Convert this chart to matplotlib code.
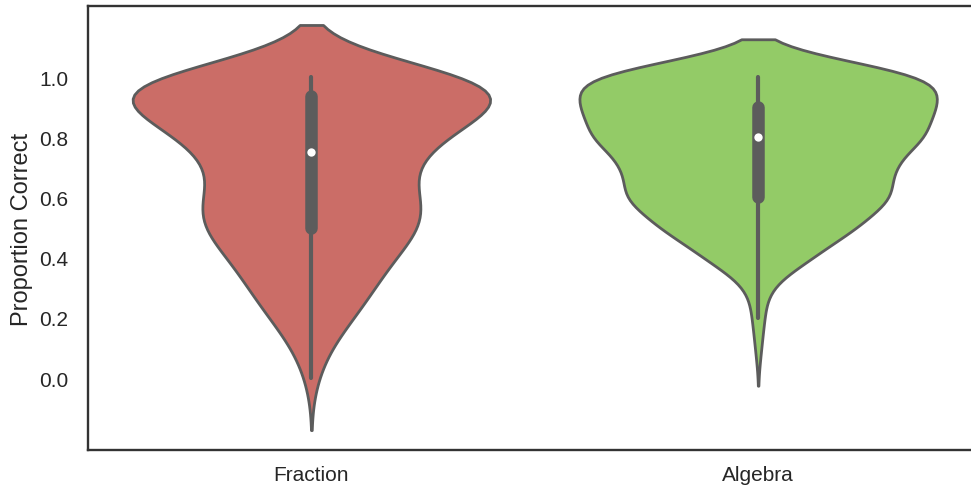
import numpy as np
import pandas as pd
import matplotlib
matplotlib.use("Agg")
import matplotlib.pyplot as plt
import seaborn as sns

sns.set_theme(style="white")
plt.rcParams['font.family'] = ['Liberation Sans', 'DejaVu Sans']

categories = ['Fraction', 'Algebra']

# score levels and number of students at each level
fraction_scores = [0.00, 0.05, 0.10, 0.15, 0.20, 0.25, 0.30, 0.35, 0.40, 0.45,
                   0.50, 0.55, 0.60, 0.65, 0.70, 0.75, 0.80, 0.85, 0.90, 0.95,
                   1.00]
fraction_counts = [1, 1, 2, 3, 5, 6, 7, 8, 9, 10,
                   14, 13, 12, 11, 10, 11, 16, 17, 19, 26,
                   33]

algebra_scores = [0.1, 0.2, 0.3, 0.4, 0.5, 0.6, 0.7, 0.8, 0.9, 1.0]
algebra_counts = [1, 2, 3, 17, 31, 43, 41, 53, 55, 60]

yticks = [0.0, 0.2, 0.4, 0.6, 0.8, 1.0]

frac = np.repeat(fraction_scores, fraction_counts)
alg = np.repeat(algebra_scores, algebra_counts)
df = pd.DataFrame({
    'Condition': ['Fraction'] * len(frac) + ['Algebra'] * len(alg),
    'Proportion Correct': np.concatenate([frac, alg]),
})

hls = sns.color_palette('hls', 8)
pal = {'Fraction': hls[0], 'Algebra': hls[2]}

fig = plt.figure(figsize=(9.71, 4.89), dpi=100)
ax = fig.add_axes([88 / 971, 38 / 489, 893.5 / 971, 444 / 489])
sns.violinplot(data=df, x='Condition', y='Proportion Correct', hue='Condition',
               order=categories, hue_order=categories, palette=pal,
               linewidth=2, legend=False, ax=ax,
               inner_kws=dict(marker='o', markersize=6, markeredgewidth=0))

ax.set_xlim(-0.5, 1.5)
ax.set_ylim(-0.239, 1.236)
ax.set_yticks(yticks)
ax.set_yticklabels(['%.1f' % t for t in yticks])
ax.set_xlabel('')
ax.set_ylabel('Proportion Correct', fontsize=17)
ax.yaxis.set_label_coords(-0.062, 0.5)
ax.tick_params(axis='y', length=0, pad=14, labelsize=15, colors='#262626')
ax.tick_params(axis='x', length=0, pad=11, labelsize=15, colors='#262626')
for sp in ax.spines.values():
    sp.set_color('#333333')
    sp.set_linewidth(1.7)

fig.savefig('out.png', dpi=100)
